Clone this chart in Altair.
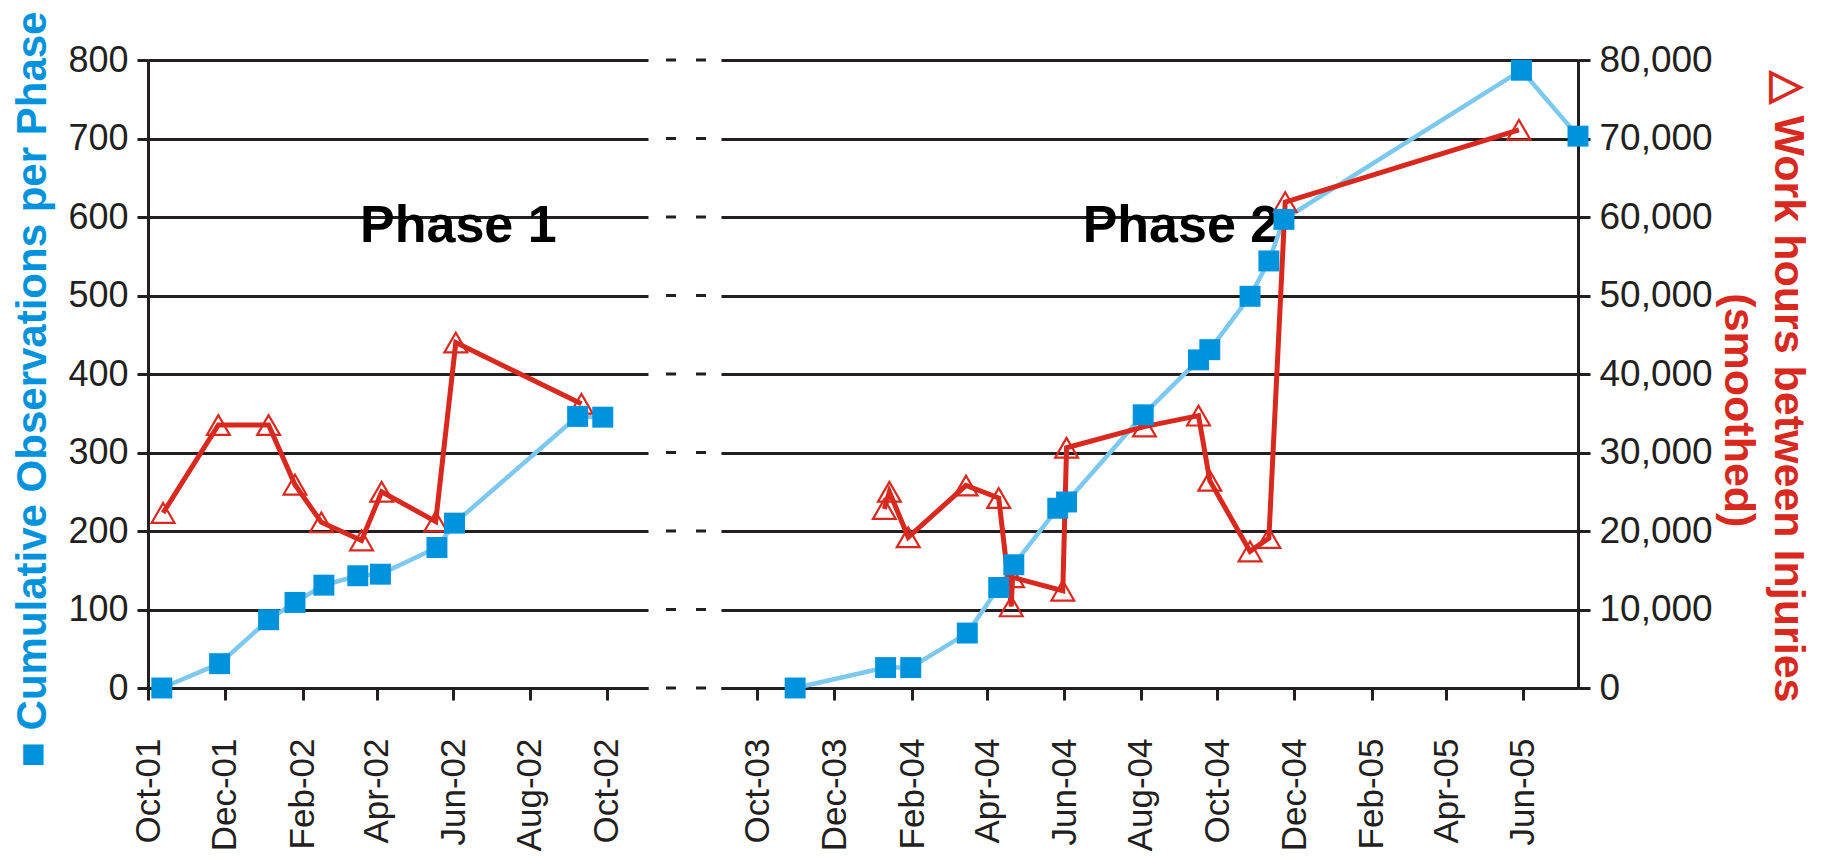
import altair as alt
import pandas as pd

# ---------------- data ----------------
# Phase 1 - cumulative observations (left axis)
p1_obs_dates = ["2001-10-12", "2001-11-27", "2002-01-05", "2002-01-26", "2002-02-18",
                "2002-03-17", "2002-04-04", "2002-05-19", "2002-06-02", "2002-09-08",
                "2002-09-28"]
p1_obs = [0, 31, 87, 109, 131, 143, 145, 179, 210, 346, 345]

# Phase 1 - work hours between injuries, smoothed (right axis)
p1_hrs_dates = ["2001-10-13", "2001-11-26", "2002-01-05", "2002-01-26", "2002-02-16",
                "2002-03-20", "2002-04-05", "2002-05-18", "2002-06-03", "2002-09-11"]
p1_hrs = [22300, 33500, 33500, 25900, 21100, 18800, 25000, 21200, 44000, 36200]

# Phase 2 - cumulative observations
p2_obs_dates = ["2003-10-31", "2004-01-11", "2004-01-31", "2004-03-16", "2004-04-10",
                "2004-04-22", "2004-05-27", "2004-06-03", "2004-08-03", "2004-09-16",
                "2004-09-25", "2004-10-27", "2004-11-11", "2004-11-23", "2005-05-31",
                "2005-07-15"]
p2_obs = [0, 26, 26, 70, 128, 157, 229, 237, 348, 418, 431, 499, 544, 597, 787, 703]

# Phase 2 - work hours between injuries
p2_hrs_dates = ["2004-01-10", "2004-01-14", "2004-01-29", "2004-03-15", "2004-04-10",
                "2004-04-20", "2004-04-21", "2004-05-31", "2004-06-03", "2004-08-04",
                "2004-09-16", "2004-09-25", "2004-10-27", "2004-11-11", "2004-11-24",
                "2005-05-29"]
p2_hrs = [22800, 25000, 19200, 25800, 24200, 10400, 14100, 12400, 30600, 33300,
          34700, 26400, 17400, 19100, 61900, 71100]

obs_ticks = [0, 100, 200, 300, 400, 500, 600, 700, 800]
hrs_ticks = [0, 10000, 20000, 30000, 40000, 50000, 60000, 70000, 80000]

p1_month_ticks = ["2001-10-01", "2001-12-01", "2002-02-01", "2002-04-01",
                  "2002-06-01", "2002-08-01", "2002-10-01"]
p2_month_ticks = ["2003-10-01", "2003-12-01", "2004-02-01", "2004-04-01",
                  "2004-06-01", "2004-08-01", "2004-10-01", "2004-12-01",
                  "2005-02-01", "2005-04-01", "2005-06-01"]
p1_domain = ["2001-10-01", "2002-11-03"]
p2_domain = ["2003-09-02", "2005-07-15"]

phase_labels = ["Phase 1", "Phase 2"]
phase_label_dates = ["2002-06-05", "2004-09-02"]
phase_label_value = 568

left_title = "\u25A0 Cumulative Observations per Phase"
# second line is indented a little (zero-width space keeps the no-break spaces)
right_title = ["\u25B3 Work hours between Injuries",
               "\u200b" + "\u00a0" * 4 + "(smoothed)"]

# ---------------- styling ----------------
BLUE = "#0093DD"
LBLUE = "#7CC8EF"
RED = "#D9281E"
INK = "#231F20"
FONT = "Liberation Sans"
H = 628


def dt(s):
    y, m, d = (int(v) for v in s.split("-"))
    return alt.DateTime(year=y, month=m, date=d, utc=True)


obs_scale = alt.Scale(domain=[0, 800], nice=False, zero=True)
hrs_scale = alt.Scale(domain=[0, 80000], nice=False, zero=True)


def x_axis(ticks):
    return alt.Axis(values=[dt(t) for t in ticks], format="%b-%y", labelAngle=270,
                    labelFontSize=35, labelFont=FONT, labelColor=INK, labelPadding=38,
                    labelFlush=False, labelOverlap=False, tickSize=12, tickWidth=3,
                    tickColor=INK, domainColor=INK, domainWidth=3, grid=False, title=None)


obs_axis_left = alt.Axis(orient="left", values=obs_ticks, format="d", grid=True,
                         gridColor=INK, gridWidth=3, domainColor=INK, domainWidth=3,
                         tickColor=INK, tickWidth=3, tickSize=11, labelPadding=9,
                         labelFont=FONT, labelFontSize=36, labelColor=INK,
                         title=left_title, titleFont=FONT, titleFontSize=42,
                         titleFontWeight="bold", titleColor=BLUE, titleAngle=270,
                         titlePadding=13, titleY=329)

obs_axis_grid = alt.Axis(orient="left", values=obs_ticks, grid=True, gridColor=INK,
                         gridWidth=3, labels=False, ticks=False, domain=False, title=None)

hrs_axis_right = alt.Axis(orient="right", values=hrs_ticks, format=",d", grid=False,
                          domainColor=INK, domainWidth=3, tickColor=INK, tickWidth=3,
                          tickSize=12, labelPadding=9, labelFont=FONT, labelFontSize=37,
                          labelColor=INK, title=right_title, titleFont=FONT,
                          titleFontSize=43, titleFontWeight="bold", titleColor=RED,
                          titleAngle=90, titlePadding=3, titleLineHeight=50, titleY=326)


def panel(obs_dates, obs_vals, hrs_dates, hrs_vals, domain, ticks, label, label_date,
          obs_axis, hrs_axis, width):
    xs = alt.Scale(type="utc", domain=[dt(domain[0]), dt(domain[1])], nice=False)
    xa = x_axis(ticks)
    obs_df = pd.DataFrame({"date": obs_dates, "obs": obs_vals})
    hrs_df = pd.DataFrame({"date": hrs_dates, "hrs": hrs_vals})
    lab_df = pd.DataFrame({"date": [label_date], "y": [phase_label_value], "label": [label]})

    text = alt.Chart(lab_df).mark_text(font=FONT, fontSize=52, fontWeight="bold",
                                       color="black", align="center",
                                       baseline="alphabetic").encode(
        x=alt.X("date:T", scale=xs, axis=xa),
        y=alt.Y("y:Q", scale=obs_scale, axis=obs_axis),
        text="label:N")
    bline = alt.Chart(obs_df).mark_line(color=LBLUE, strokeWidth=4.5).encode(
        x=alt.X("date:T", scale=xs, axis=xa),
        y=alt.Y("obs:Q", scale=obs_scale, axis=obs_axis))
    rline = alt.Chart(hrs_df).mark_line(color=RED, strokeWidth=5).encode(
        x=alt.X("date:T", scale=xs, axis=xa),
        y=alt.Y("hrs:Q", scale=hrs_scale, axis=hrs_axis))
    rpts = alt.Chart(hrs_df).mark_point(shape="triangle-up", filled=False, size=520,
                                        color=RED, strokeWidth=2.2, opacity=1).encode(
        x=alt.X("date:T", scale=xs, axis=xa),
        y=alt.Y("hrs:Q", scale=hrs_scale, axis=hrs_axis))
    bpts = alt.Chart(obs_df).mark_point(shape="square", filled=True, size=440,
                                        color=BLUE, opacity=1).encode(
        x=alt.X("date:T", scale=xs, axis=xa),
        y=alt.Y("obs:Q", scale=obs_scale, axis=None))

    return alt.layer(alt.layer(text, bline), alt.layer(rline, rpts), bpts).resolve_scale(
        y="independent").properties(width=width, height=H)


left = panel(p1_obs_dates, p1_obs, p1_hrs_dates, p1_hrs, p1_domain, p1_month_ticks,
             phase_labels[0], phase_label_dates[0], obs_axis_left, None, 500)
right = panel(p2_obs_dates, p2_obs, p2_hrs_dates, p2_hrs, p2_domain, p2_month_ticks,
              phase_labels[1], phase_label_dates[1], obs_axis_grid, hrs_axis_right, 857)

gap = alt.Chart(pd.DataFrame({"v": obs_ticks})).mark_rule(
    color=INK, strokeWidth=3, strokeDash=[10, 20]).encode(
    y=alt.Y("v:Q", scale=obs_scale, axis=None),
    x=alt.value(18), x2=alt.value(59)).properties(width=73, height=H)

chart = alt.hconcat(left, gap, right, spacing=0).resolve_scale(
    x="independent", y="independent").properties(
    padding={"left": 3, "top": 3, "right": 5, "bottom": 0},
    background="white").configure_view(stroke=None)

chart.save("out.html", embed_options={"renderer": "svg", "actions": False})
